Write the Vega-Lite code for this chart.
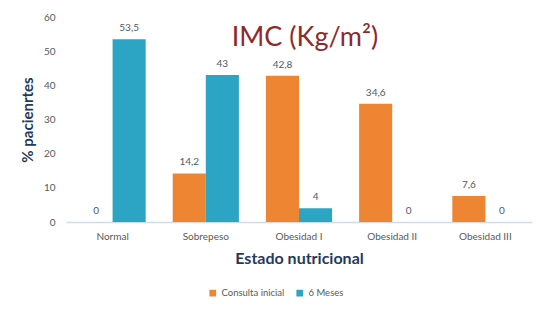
{
  "$schema": "https://vega.github.io/schema/vega-lite/v6.json",
  "autosize": "none",
  "width": 466,
  "height": 205,
  "padding": {"left": 66, "top": 17, "right": 17, "bottom": 93},
  "background": "white",
  "config": {
    "font": "Lato",
    "view": {"stroke": null},
    "locale": {"number": {"decimal": ",", "thousands": ".", "grouping": [3], "currency": ["", " €"]}}
  },
  "title": {
    "text": "IMC (Kg/m²)",
    "font": "Lato",
    "fontSize": 27,
    "fontWeight": "normal",
    "color": "#8E2A2A",
    "anchor": "middle",
    "offset": -40,
    "dx": 6
  },
  "data": {
    "values": [
      {"estado": "Normal", "serie": "Consulta inicial", "valor": 0},
      {"estado": "Normal", "serie": "6 Meses", "valor": 53.5},
      {"estado": "Sobrepeso", "serie": "Consulta inicial", "valor": 14.2},
      {"estado": "Sobrepeso", "serie": "6 Meses", "valor": 43},
      {"estado": "Obesidad I", "serie": "Consulta inicial", "valor": 42.8},
      {"estado": "Obesidad I", "serie": "6 Meses", "valor": 4},
      {"estado": "Obesidad II", "serie": "Consulta inicial", "valor": 34.6},
      {"estado": "Obesidad II", "serie": "6 Meses", "valor": 0},
      {"estado": "Obesidad III", "serie": "Consulta inicial", "valor": 7.6},
      {"estado": "Obesidad III", "serie": "6 Meses", "valor": 0}
    ]
  },
  "encoding": {
    "x": {
      "field": "estado",
      "type": "nominal",
      "sort": null,
      "scale": {"paddingInner": 0.29, "paddingOuter": 0.145},
      "axis": {
        "title": "Estado nutricional",
        "titleFont": "Lato",
        "titleFontSize": 16,
        "titleFontWeight": "bold",
        "titleColor": "#1F3B5C",
        "titlePadding": 9,
        "labelAngle": 0,
        "labelFontSize": 10,
        "labelColor": "#595959",
        "labelPadding": 9,
        "ticks": false,
        "domainColor": "#D0DCE8",
        "domainWidth": 1.5
      }
    },
    "xOffset": {"field": "serie", "type": "nominal", "sort": ["Consulta inicial", "6 Meses"]},
    "y": {
      "field": "valor",
      "type": "quantitative",
      "scale": {"domain": [0, 60]},
      "axis": {
        "title": "% pacienrtes",
        "titleFont": "Lato",
        "titleFontSize": 15,
        "titleFontWeight": "bold",
        "titleColor": "#1F3B5C",
        "titlePadding": 8,
        "values": [0, 10, 20, 30, 40, 50, 60],
        "grid": false,
        "domain": false,
        "ticks": false,
        "labelFontSize": 10,
        "labelColor": "#595959",
        "labelPadding": 11
      }
    }
  },
  "layer": [
    {
      "mark": {"type": "bar"},
      "encoding": {
        "color": {
          "field": "serie",
          "type": "nominal",
          "sort": ["Consulta inicial", "6 Meses"],
          "scale": {"domain": ["Consulta inicial", "6 Meses"], "range": ["#EE8533", "#2CA4C4"]},
          "legend": {
            "title": null,
            "orient": "none",
            "legendX": 142,
            "legendY": 271,
            "direction": "horizontal",
            "symbolType": "square",
            "symbolSize": 45,
            "labelFontSize": 9.5,
            "labelColor": "#595959",
            "labelOffset": 4,
            "columnPadding": 10
          }
        }
      }
    },
    {
      "mark": {"type": "text", "baseline": "bottom", "dy": -6, "fontSize": 10, "color": "#4A5B70"},
      "encoding": {
        "text": {"field": "valor", "type": "quantitative", "format": "~g"}
      }
    }
  ]
}
